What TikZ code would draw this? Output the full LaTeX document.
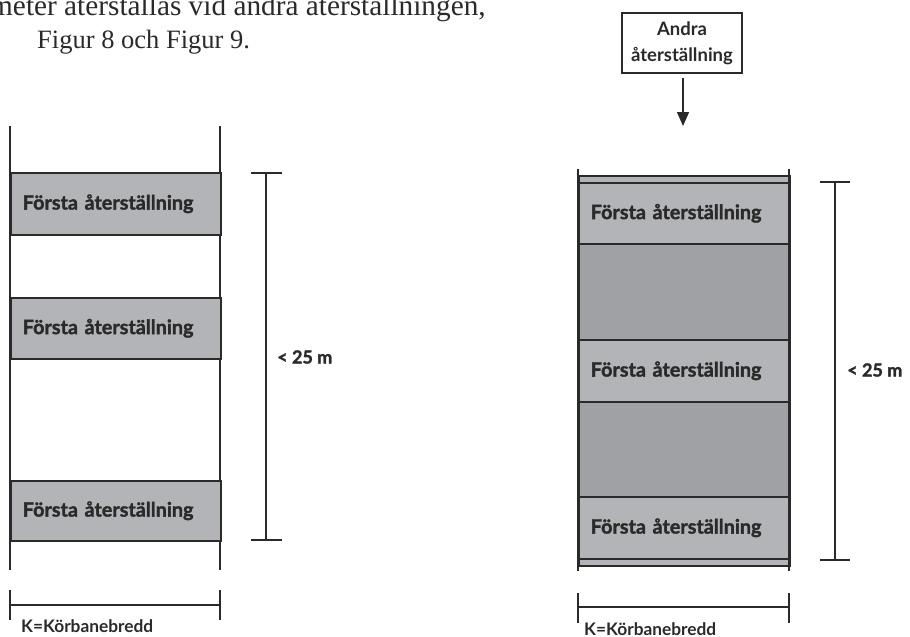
\documentclass[tikz,border=0pt]{standalone}
\usepackage{fontspec}
\setmainfont{Liberation Serif}
\newfontfamily\lab{Lato}
\newfontfamily\labheavy{Lato}[UprightFont=* Bold, FakeBold=1.6]
\usetikzlibrary{arrows.meta}
\definecolor{ln}{HTML}{2A2A2A}
\definecolor{lgray}{HTML}{B3B4B8}
\definecolor{dgray}{HTML}{A0A1A5}
\tikzset{
  rd/.style={draw=ln, line width=1.6pt},
  fbox/.style={draw=ln, line width=1.6pt, fill=lgray, anchor=north west,
     minimum width=#1, text width=#1-24pt, inner xsep=12pt, inner ysep=0pt, align=left,
     font=\labheavy\fontsize{19.8}{22}\selectfont, text=ln},
  dbox/.style={draw=ln, line width=1.6pt, fill=dgray, anchor=north west, minimum width=211pt, inner sep=0pt},
  dim/.style={draw=ln, line width=1.4pt},
  dimlab/.style={font=\labheavy\fontsize{18}{20}\selectfont, anchor=west, inner sep=0pt, text=ln},
  klab/.style={font=\lab\bfseries\fontsize{17.3}{18}\selectfont, anchor=base west, inner sep=0pt, text=ln},
}
\begin{document}
\begin{tikzpicture}[x=1pt,y=-1pt]
\useasboundingbox (0,0) rectangle (910,637);
\clip (0,0) rectangle (910,637);
% paragraph text
\node[anchor=base west, inner sep=0pt, font=\fontsize{29.3}{30}\selectfont, text=ln] (p1) at (-10,16) {meter återställas vid andra återställningen,};
\node[anchor=base west, inner sep=0pt, font=\fontsize{26.5}{30}\selectfont, text=ln] (p2) at (37,48) {Figur 8 och Figur 9.};

% ---------- left diagram ----------
\coordinate (lt1) at (10,126); \coordinate (lb1) at (10,570);
\coordinate (lt2) at (220,126); \coordinate (lb2) at (220,570);
\draw[rd] (lt1) -- (lb1);
\draw[rd] (lt2) -- (lb2);
\node[fbox=210pt, minimum height=62pt] (l1) at (10,172) {Första återställning};
\node[fbox=210pt, minimum height=61pt] (l2) at (10,297) {Första återställning};
\node[fbox=210pt, minimum height=60pt] (l3) at (10,480) {Första återställning};
% dimension
\coordinate (ld1) at (266,173); \coordinate (ld2) at (266,540);
\coordinate (ld1a) at (251,173); \coordinate (ld1b) at (282,173);
\coordinate (ld2a) at (251,540); \coordinate (ld2b) at (282,540);
\draw[dim] (ld1) -- (ld2);
\draw[dim] (ld1a) -- (ld1b);
\draw[dim] (ld2a) -- (ld2b);
\node[dimlab] (llab) at (277,357) {< 25 m};
% width
\coordinate (lk1) at (10,590); \coordinate (lk1b) at (10,620);
\coordinate (lk2) at (220,590); \coordinate (lk2b) at (220,620);
\coordinate (lkm1) at (10,605); \coordinate (lkm2) at (220,605);
\draw[dim] (lk1) -- (lk1b);
\draw[dim] (lk2) -- (lk2b);
\draw[dim] (lkm1) -- (lkm2);
\node[klab] (lk) at (21,632) {K=Körbanebredd};

% ---------- right diagram ----------
\coordinate (rt1) at (578,169); \coordinate (rb1) at (578,571);
\coordinate (rt2) at (789,169); \coordinate (rb2) at (789,571);
\node[dbox, fill=lgray, minimum height=7pt] (rs1) at (578,175) {};
\node[fbox=211pt, minimum height=61pt] (r1) at (578,182) {Första återställning};
\node[dbox, minimum height=96pt] (rd1) at (578,243) {};
\node[fbox=211pt, minimum height=62pt] (r2) at (578,339) {Första återställning};
\node[dbox, minimum height=95pt] (rd2) at (578,401) {};
\node[fbox=211pt, minimum height=62pt] (r3) at (578,496) {Första återställning};
\node[dbox, fill=lgray, minimum height=7pt] (rs2) at (578,558) {};
\draw[rd] (rt1) -- (rb1);
\draw[rd] (rt2) -- (rb2);
% dimension
\coordinate (rd1t) at (835,182); \coordinate (rd2t) at (835,560);
\coordinate (rd1a) at (820,182); \coordinate (rd1b) at (850,182);
\coordinate (rd2a) at (820,560); \coordinate (rd2b) at (850,560);
\draw[dim] (rd1t) -- (rd2t);
\draw[dim] (rd1a) -- (rd1b);
\draw[dim] (rd2a) -- (rd2b);
\node[dimlab] (rlab) at (847,370) {< 25 m};
% width
\coordinate (rk1) at (578,593); \coordinate (rk1b) at (578,623);
\coordinate (rk2) at (789,593); \coordinate (rk2b) at (789,623);
\coordinate (rkm1) at (578,607); \coordinate (rkm2) at (789,607);
\draw[dim] (rk1) -- (rk1b);
\draw[dim] (rk2) -- (rk2b);
\draw[dim] (rkm1) -- (rkm2);
\node[klab] (rk) at (584,635) {K=Körbanebredd};

% Andra återställning
\node[draw=ln, line width=1.6pt, fill=white, minimum width=120pt, minimum height=60pt, align=center,
      font=\lab\bfseries\fontsize{18.5}{26}\selectfont, text=ln, inner sep=0pt] (andra) at (682,43) {Andra\\återställning};
\coordinate (arrend) at (683,126);
\draw[draw=ln, line width=1.4pt, -{Triangle[width=12pt,length=14pt]}, shorten <=4pt] (andra.south -| arrend) -- (arrend);
\end{tikzpicture}
\end{document}
